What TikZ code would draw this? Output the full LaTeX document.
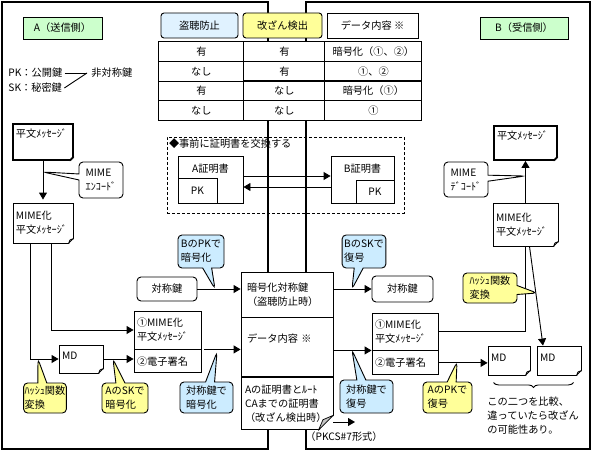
\documentclass[tikz,border=0pt]{standalone}
\usepackage{fontspec}
\setmainfont{Noto Sans CJK JP}
\usetikzlibrary{shapes.callouts,arrows.meta,calc,positioning,matrix,decorations.pathreplacing}

\definecolor{sideGreen}{HTML}{CCFFCC}
\definecolor{noteYellow}{HTML}{FFFF99}
\definecolor{noteBlue}{HTML}{CCECFF}
\definecolor{tapBlue}{HTML}{E0F2FF}

% folded corner at the bottom right of a named node
\newcommand{\dogear}[2][5]{%
  \fill[white] ($(#2.south east)+(-#1-0.5,1.5)$) -- ($(#2.south east)+(1.5,1.5)$) -- ($(#2.south east)+(1.5,-#1-0.5)$) -- cycle;
  \filldraw[fill=gray!45, line width=0.7pt, line join=round] ($(#2.south east)+(-#1,0)$) -- ($(#2.south east)+(0,-#1)$) -- ($(#2.south east)+(-0.7*#1,-0.7*#1)$) -- cycle;
}

\begin{document}
\begin{tikzpicture}[x=1pt, y=-1pt, line width=0.9pt,
  every node/.style={font=\fontsize{10.2}{14}\selectfont},
  frame/.style={draw, line width=2.2pt},
  side/.style={draw, fill=sideGreen, minimum height=22pt},
  tag/.style={draw, rounded corners=3pt, minimum height=25pt},
  docbox/.style={draw, fill=white, align=left, inner xsep=3pt},
  keybox/.style={draw, fill=white, rounded corners=4pt},
  envpart/.style={draw, fill=white, minimum width=92pt, text width=80pt, inner xsep=6pt, align=left},
  cert/.style={draw, align=left, inner xsep=9pt},
  bubble/.style={rectangle callout, draw, rounded corners=4pt, align=left, inner sep=2pt, callout pointer width=9pt},
  arrow/.style={-{Triangle[length=7pt,width=8pt]}}
]
\useasboundingbox (0,0) rectangle (595,452);

% sender and receiver frames
\draw[frame] (2,2) rectangle (268,449);
\draw[frame] (306,2) rectangle (590,449);

% headings
\node[side, minimum width=79pt] (sideA) at (62.5,28) {A（送信側）};
\node[side, minimum width=88pt] (sideB) at (524,28) {B（受信側）};
\node[tag, fill=tapBlue, minimum width=77pt] (tagTap) at (199.5,25.5) {盗聴防止};
\node[tag, fill=noteYellow, minimum width=79pt] (tagTamper) at (282.5,25.5) {改ざん検出};
\node[draw, fill=white, minimum width=91pt, minimum height=25pt] (tagData) at (372.5,25.5) {データ内容 ※};

% table
\matrix[matrix of nodes, anchor=north west, inner sep=0pt, column sep=-0.9pt, row sep=-0.9pt,
  nodes={draw, fill=white, minimum height=19.5pt, inner sep=1pt},
  column 1/.style={nodes={minimum width=85pt}},
  column 2/.style={nodes={minimum width=81pt}},
  column 3/.style={nodes={minimum width=97pt}}] (tbl) at (158,41) {
  有 & 有 & 暗号化（①、②）\\
  なし & 有 & ①、②\\
  有 & なし & 暗号化（①）\\
  なし & なし & ①\\
};

% key legend
\node[anchor=west, inner sep=2pt] (pkNote) at (6,73) {PK：公開鍵};
\node[anchor=west, inner sep=2pt] (skNote) at (6,88) {SK：秘密鍵};
\node[anchor=west, inner sep=4pt] (asym) at (87,73) {非対称鍵};
\draw (pkNote.east) -- (asym.west);
\draw (skNote.east) -- (asym.west);

% certificate exchange
\node[draw, dash pattern=on 3pt off 2pt, minimum width=237pt, minimum height=76pt] (exch) at (285.5,175) {};
\node[anchor=north west, inner sep=2pt] (exchTitle) at (exch.north west) {◆事前に証明書を交換する};
\node[cert, minimum width=65pt, minimum height=47pt, text depth=23pt] (certA) at (210.5,179.5) {A証明書};
\node[draw, minimum width=39pt, minimum height=25pt, anchor=south west] (pkA) at (certA.south west) {PK};
\node[cert, minimum width=63pt, minimum height=47pt, text depth=23pt] (certB) at (362.5,179.5) {B証明書};
\node[draw, minimum width=38pt, minimum height=23pt, anchor=south east] (pkB) at (certB.south east) {PK};
\draw[arrow] ([yshift=3.5pt]certA.east) -- ([yshift=3.5pt]certB.west);
\draw[arrow] ([yshift=-7.5pt]certB.west) -- ([yshift=-7.5pt]certA.east);

% sender A
\node[docbox, line width=1.8pt, minimum width=60pt, minimum height=36pt, text width=54pt, text depth=18pt] (plainA) at (43,142) {平文ﾒｯｾｰｼﾞ};
\dogear[4]{plainA}
\node[docbox, minimum width=60pt, minimum height=40pt, text width=54pt] (mimeA) at (43,223) {MIME化\\平文ﾒｯｾｰｼﾞ};
\dogear{mimeA}
\draw[arrow, shorten >=3pt] (plainA) -- (mimeA);
\node[bubble, fill=white, minimum width=44pt, minimum height=36pt, callout pointer width=6pt, callout absolute pointer={(43,172)}] (encA) at (101,180) {MIME\\ｴﾝｺｰﾄﾞ};

\node[docbox, minimum width=44pt, minimum height=28pt, text width=38pt, text depth=6pt] (mdA) at (81,359) {MD};
\dogear{mdA}
\node[docbox, minimum width=67pt, minimum height=38pt, text width=61pt] (msgA) at (167.5,330) {①MIME化\\平文ﾒｯｾｰｼﾞ};
\node[docbox, minimum width=67pt, minimum height=23pt, text width=61pt, below=0pt of msgA] (sigA) {②電子署名};
\node[keybox, minimum width=60pt, minimum height=24pt] (keyA) at (167,289) {対称鍵};

\draw[arrow] ([xshift=-13pt]mimeA.south) |- (mdA.west);
\draw[arrow] ([xshift=8pt]mimeA.south) |- (msgA.west);
\draw[arrow] (mdA.east) -- (mdA.east -| sigA.west);

% envelope
\node[envpart, minimum height=45pt] (envKey) at (287,294.5) {暗号化対称鍵\\（盗聴防止時）};
\node[envpart, minimum height=59pt, text depth=19pt, below=0pt of envKey] (envData) {データ内容 ※};
\node[envpart, minimum height=52pt, inner xsep=4pt, text width=84pt, below=0pt of envData] (envCert) {Aの証明書とﾙｰﾄ\\CAまでの証明書\\（改ざん検出時）};
\dogear[15]{envCert}
\node[inner sep=1pt] (pkcs) at (344,437) {（PKCS\#7形式）};
\coordinate (pkcsTip) at (355,422);
\draw[arrow] (envCert.east |- pkcsTip) -- (pkcsTip);

\draw[arrow] (keyA.east) -- (keyA.east -| envKey.west);
\draw[arrow, shorten <=3pt] (msgA.south east) -- (msgA.south east -| envData.west);

\node[bubble, fill=noteBlue, minimum width=46pt, minimum height=33pt, callout absolute pointer={(215,289)}] (pkEnc) at (201,251.5) {BのPKで\\暗号化};
\node[bubble, fill=noteYellow, minimum width=36pt, minimum height=30pt, inner xsep=1pt, callout absolute pointer={(38,359)}] (hashA) at (45,398) {ﾊｯｼｭ関数\\変換};
\node[bubble, fill=noteYellow, minimum width=46pt, minimum height=30pt, callout absolute pointer={(113,359)}] (skEnc) at (125,398) {AのSKで\\暗号化};
\node[bubble, fill=noteBlue, minimum width=53pt, minimum height=31pt, callout absolute pointer={(217,352)}] (symEnc) at (206.5,397.5) {対称鍵で\\暗号化};

% receiver B
\node[docbox, line width=1.8pt, minimum width=63pt, minimum height=34pt, text width=57pt, text depth=16pt] (plainB) at (525.5,143) {平文ﾒｯｾｰｼﾞ};
\dogear[4]{plainB}
\node[docbox, minimum width=65pt, minimum height=43pt, text width=59pt] (mimeB) at (525.5,224.5) {MIME化\\平文ﾒｯｾｰｼﾞ};
\dogear{mimeB}
\draw[arrow] (mimeB) -- (plainB);
\node[bubble, fill=white, minimum width=44pt, minimum height=35pt, callout pointer width=6pt, callout absolute pointer={(525,176)}] (decB) at (466,179.5) {MIME\\ﾃﾞｺｰﾄﾞ};

\node[keybox, minimum width=61pt, minimum height=26pt] (keyB) at (402.5,289) {対称鍵};
\node[docbox, minimum width=66pt, minimum height=37pt, text width=60pt] (msgB) at (405,331.5) {①MIME化\\平文ﾒｯｾｰｼﾞ};
\node[docbox, minimum width=66pt, minimum height=24pt, text width=60pt, below=0pt of msgB] (sigB) {②電子署名};
\node[docbox, minimum width=42pt, minimum height=29pt, text width=36pt, text depth=6pt] (mdB1) at (509,360.5) {MD};
\dogear{mdB1}
\node[docbox, minimum width=44pt, minimum height=29pt, text width=38pt, text depth=6pt] (mdB2) at (559,360.5) {MD};
\dogear{mdB2}

\draw[arrow] (envKey.east |- keyB.west) -- (keyB.west);
\draw[arrow] (envData.east |- msgB.south west) -- (msgB.south west);
\draw (msgB.east) -| (mimeB.south);
\draw[arrow] (sigB.east) -- (sigB.east -| mdB1.west);
\draw[arrow] ([xshift=4pt]mimeB.south) -- ([xshift=-16pt]mdB2.north);

\node[bubble, fill=noteBlue, minimum width=42pt, minimum height=33pt, callout absolute pointer={(352,289)}] (skDec) at (364,251.5) {BのSKで\\復号};
\node[bubble, fill=noteBlue, minimum width=53pt, minimum height=33pt, callout absolute pointer={(352,350)}] (symDec) at (366.5,396.5) {対称鍵で\\復号};
\node[bubble, fill=noteYellow, minimum width=49pt, minimum height=31pt, callout absolute pointer={(457,362)}] (pkDec) at (447.5,397.5) {AのPKで\\復号};
\node[bubble, fill=noteYellow, minimum width=54pt, minimum height=30pt, callout absolute pointer={(537,293)}] (hashB) at (490,288) {ﾊｯｼｭ関数\\変換};

\draw[decorate, decoration={brace, mirror, amplitude=5pt}] ([xshift=6pt, yshift=-7pt]mdB1.south west) -- ([xshift=-8pt, yshift=-7pt]mdB2.south east);
\node[anchor=north west, align=left, inner sep=1pt] (verdict) at (486,395) {この二つを比較、\\違っていたら改ざん\\の可能性あり。};

\end{tikzpicture}
\end{document}
